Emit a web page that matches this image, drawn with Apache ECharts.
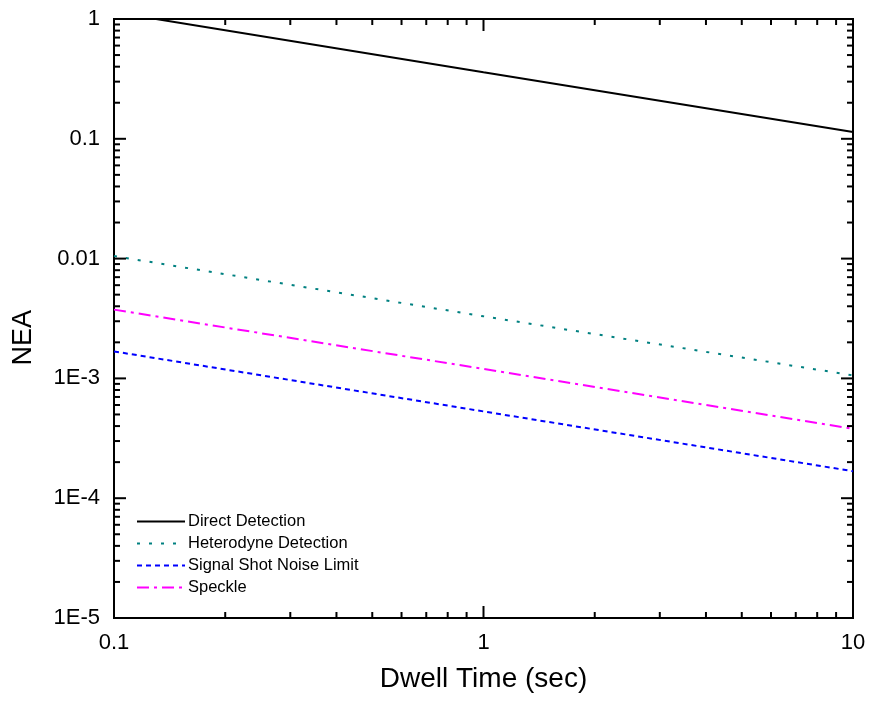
<!DOCTYPE html>
<html>
<head>
<meta charset="utf-8">
<script src="https://cdn.jsdelivr.net/npm/echarts@6/dist/echarts.min.js"></script>
<style>
    html, body { margin: 0; padding: 0; background: #fff; }
    #chart { width: 870px; height: 702px; }
</style>
</head>
<body>
<div id="chart"></div>
<script>
// dwell time (sec)
var dwell = [0.1, 1, 10];
// NEA values read at each dwell time
var direct = [1.14, 0.36, 0.114];
var heterodyne = [0.0105, 0.0033, 0.00106];
var shotNoise = [0.00168, 0.00053, 0.000168];
var speckle = [0.00375, 0.0012, 0.00038];

var xMajor = [0.1, 1, 10];
var xLabels = ['0.1', '1', '10'];
var yMajor = [1e-5, 1e-4, 1e-3, 0.01, 0.1, 1];
var yLabels = ['1E-5', '1E-4', '1E-3', '0.01', '0.1', '1'];

(function(){
    var chart = echarts.init(document.getElementById('chart'), null, {renderer: 'canvas'});
    var font = '"Liberation Sans", Arial, sans-serif';

    function pairs(ys){
        var out = [];
        for (var i = 0; i < dwell.length; i++) out.push([dwell[i], ys[i]]);
        return out;
    }

    // nearest major tick -> its label
    function labelFor(v, majors, labels){
        var best = 0;
        for (var i = 0; i < majors.length; i++) {
            if (Math.abs(Math.log10(v / majors[i])) < Math.abs(Math.log10(v / majors[best]))) best = i;
        }
        return labels[best];
    }

    // tick positions: majors + 2..9 within each decade
    function tickList(majors){
        var list = [];
        for (var i = 0; i < majors.length; i++) {
            list.push([majors[i], 1]);
            if (i < majors.length - 1) {
                for (var k = 2; k <= 9; k++) list.push([majors[i] * k, 0]);
            }
        }
        return list;
    }
    var xTicks = tickList(xMajor).map(function(t){ return [t[0], 1e-5, t[1]]; });
    var yTicks = tickList(yMajor).map(function(t){ return [0.1, t[0], t[1]]; });

    var tickStyle = {stroke: '#000', lineWidth: 2};

    function renderXTick(params, api){
        var v = api.value(0), len = api.value(2) ? 12 : 6;
        var b = api.coord([v, 1e-5]), t = api.coord([v, 1]);
        return {type: 'group', children: [
            {type: 'line', shape: {x1: b[0], y1: b[1], x2: b[0], y2: b[1] - len}, style: tickStyle},
            {type: 'line', shape: {x1: t[0], y1: t[1], x2: t[0], y2: t[1] + len}, style: tickStyle}
        ]};
    }
    function renderYTick(params, api){
        var v = api.value(1), len = api.value(2) ? 12 : 6;
        var l = api.coord([0.1, v]), r = api.coord([10, v]);
        return {type: 'group', children: [
            {type: 'line', shape: {x1: l[0], y1: l[1], x2: l[0] + len, y2: l[1]}, style: tickStyle},
            {type: 'line', shape: {x1: r[0], y1: r[1], x2: r[0] - len, y2: r[1]}, style: tickStyle}
        ]};
    }

    var option = {
        animation: false,
        backgroundColor: '#fff',
        grid: {left: 114, right: 17, top: 19, bottom: 84, show: true, borderColor: '#000', borderWidth: 2},
        legend: {
            orient: 'vertical', left: 136, top: 513, padding: 0,
            itemWidth: 48, itemHeight: 14, itemGap: 5,
            itemStyle: {opacity: 0, borderWidth: 0},
            data: ['Direct Detection', 'Heterodyne Detection', 'Signal Shot Noise Limit', 'Speckle'],
            textStyle: {fontFamily: font, fontSize: 16.5, color: '#000', padding: [0, 0, 0, -2]}
        },
        xAxis: {
            type: 'log', logBase: 10, min: 0.1, max: 10,
            name: 'Dwell Time (sec)', nameLocation: 'middle', nameGap: 47,
            nameTextStyle: {fontFamily: font, fontSize: 28, color: '#000'},
            axisLine: {lineStyle: {color: '#000', width: 2}},
            axisTick: {show: false},
            splitLine: {show: false},
            axisLabel: {fontFamily: font, fontSize: 22, color: '#000', margin: 14,
                formatter: function(v){ return labelFor(v, xMajor, xLabels); }}
        },
        yAxis: {
            type: 'log', logBase: 10, min: 1e-5, max: 1, interval: 1,
            axisLine: {lineStyle: {color: '#000', width: 2}},
            axisTick: {show: false},
            splitLine: {show: false},
            axisLabel: {fontFamily: font, fontSize: 22, color: '#000', margin: 14,
                formatter: function(v){ return labelFor(v, yMajor, yLabels); }}
        },
        graphic: [{
            type: 'text', left: 10, top: 310, rotation: Math.PI / 2,
            style: {text: 'NEA', font: '27px ' + font, fill: '#000'}
        }],
        series: [
            {name: 'Direct Detection', type: 'line', symbol: 'none', data: pairs(direct),
                color: '#000', lineStyle: {color: '#000', width: 2, type: 'solid'}},
            {name: 'Heterodyne Detection', type: 'line', symbol: 'none', data: pairs(heterodyne),
                color: '#008080', lineStyle: {color: '#008080', width: 2, type: [3, 9]}},
            {name: 'Signal Shot Noise Limit', type: 'line', symbol: 'none', data: pairs(shotNoise),
                color: '#0000ff', lineStyle: {color: '#0000ff', width: 2, type: [5, 4]}},
            {name: 'Speckle', type: 'line', symbol: 'none', data: pairs(speckle),
                color: '#ff00ff', lineStyle: {color: '#ff00ff', width: 2, type: [12, 5, 3, 5]}},
            {type: 'custom', renderItem: renderXTick, data: xTicks, silent: true, clip: false, z: 5},
            {type: 'custom', renderItem: renderYTick, data: yTicks, silent: true, clip: false, z: 5}
        ]
    };
    chart.setOption(option);
})();
</script>
</body>
</html>
